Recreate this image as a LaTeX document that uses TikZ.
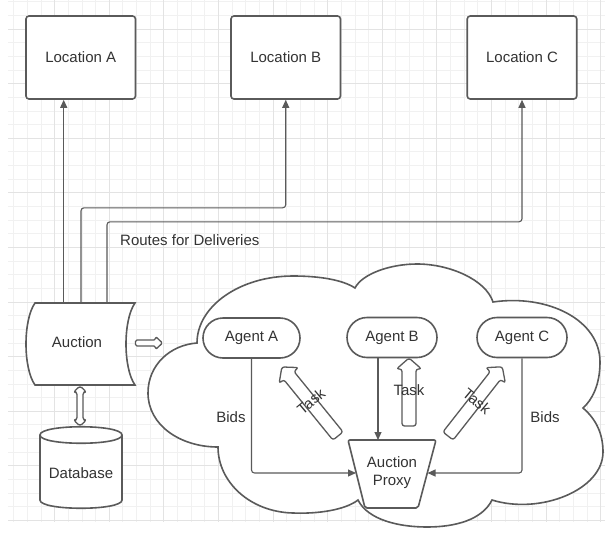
\documentclass[tikz,border=0pt]{standalone}
\usepackage{fontspec}
\setmainfont{Liberation Sans}
\usetikzlibrary{arrows.meta,calc}
\definecolor{linec}{HTML}{5A5A5A}
\definecolor{txt}{HTML}{333333}
\definecolor{gminor}{HTML}{F1F1F1}
\definecolor{gmajor}{HTML}{E3E3E3}
\newcommand{\lbfont}{\fontsize{15}{18}\selectfont}
% hollow block arrow: length, half shaft width, half head width, head length
\newcommand{\blockarr}[4]{\draw[barrow] (0,-#2) -- ({#1-#4},-#2) -- ({#1-#4},-#3) -- (#1,0) -- ({#1-#4},#3) -- ({#1-#4},#2) -- (0,#2) -- cycle;}
\newcommand{\dblarr}[4]{\draw[barrow] (0,0) -- (#4,-#3) -- (#4,-#2) -- ({#1-#4},-#2) -- ({#1-#4},-#3) -- (#1,0) -- ({#1-#4},#3) -- ({#1-#4},#2) -- (#4,#2) -- (#4,#3) -- cycle;}
\begin{document}
\begin{tikzpicture}[x=1pt,y=-1pt,
  ln/.style={draw=linec, line width=1.1pt},
  shp/.style={draw=linec, line width=1.6pt, fill=white},
  arr/.style={ln, -{Triangle[length=8pt,width=7pt]}},
  lbl/.style={text=txt, font=\lbfont, inner sep=0pt},
  locbox/.style={shp, rounded corners=3pt, minimum width=109.5pt, minimum height=83pt, text=txt, font=\lbfont},
  agent/.style={shp, rounded corners=20pt, minimum height=40pt, text=txt, font=\lbfont},
  grminor/.style={draw=gminor, line width=0.8pt},
  grmajor/.style={draw=gmajor, line width=1pt},
  barrow/.style={draw=linec, line width=1.3pt, fill=white, rounded corners=2.5pt, line join=round},
  sbarrow/.style={barrow, rounded corners=1.5pt}]
\useasboundingbox (0,0) rectangle (605,533);
\fill[white] (0,0) rectangle (605,533);
% grid
\foreach \k in {1,...,44} \draw[grminor] ({13.65*\k},0) -- ({13.65*\k},522);
\foreach \k in {0,...,38} \draw[grminor] (8,{1.7+13.65*\k}) -- (605,{1.7+13.65*\k});
\foreach \k in {1,...,11} \draw[grmajor] ({54.6*\k},0) -- ({54.6*\k},522);
\foreach \k in {0,...,9} \draw[grmajor] (8,{29+54.6*\k}) -- (605,{29+54.6*\k});

% cloud
\draw[shp] (197,343)
 .. controls (197,306) and (240,276) .. (293,276)
 .. controls (320,276) and (343,280) .. (355,288)
 .. controls (362,274) and (390,264) .. (417,264)
 .. controls (450,264) and (486,280) .. (493,302)
 .. controls (548,294) and (600,320) .. (600,362)
 .. controls (600,385) and (592,400) .. (583,408)
 .. controls (597,420) and (603,435) .. (603,452)
 .. controls (603,490) and (540,515) .. (492,500)
 .. controls (482,520) and (455,527) .. (427,527)
 .. controls (399,527) and (368,520) .. (358,500)
 .. controls (345,510) and (318,514) .. (293,513)
 .. controls (250,512) and (218,482) .. (218,447)
 .. controls (180,447) and (148,425) .. (148,393)
 .. controls (148,365) and (170,345) .. (197,343) -- cycle;

% locations
\node[locbox] (locA) at (80.75,57.5) {Location A};
\node[locbox] (locB) at (285.75,57.5) {Location B};
\node[locbox] (locC) at (522,57.5) {Location C};

% auction (stored data shape)
\draw[shp] (35,303) -- (135,303) .. controls (123,320) and (123,368) .. (135,385)
  -- (35,385) .. controls (23,368) and (23,320) .. (35,303) -- cycle;
\node[lbl] (auction) at (77,342) {Auction};
\coordinate (aA) at (63.7,303);
\coordinate (aB) at (81,303);
\coordinate (aC) at (107,303);

% routes
\draw[arr] (aA) -- (aA |- locA.south);
\draw[arr, rounded corners=3pt] (aB) |- ($(locB.south)+(0,108)$) -- (locB.south);
\draw[arr, rounded corners=3pt] (aC) |- ($(locC.south)+(0,122)$) -- (locC.south);
\node[lbl, anchor=west] (routes) at (120,240) {Routes for Deliveries};

% database
\draw[shp] (40,435) -- (40,500) .. controls (40,511) and (122,511) .. (122,500) -- (122,435)
  .. controls (122,424) and (40,424) .. (40,435) -- cycle;
\draw[ln, line width=1.6pt] (40,435) .. controls (40,446) and (122,446) .. (122,435);
\node[lbl] (db) at (81,473) {Database};

% auction <-> database, auction -> cloud
\coordinate (dbtop) at (80,386);
\coordinate (auR) at (135.5,343);
\begin{scope}[shift={(dbtop)}, rotate=-90]
  \dblarr{40}{3}{6.5}{6}
\end{scope}
\begin{scope}[shift={(auR)}]
  \draw[sbarrow] (0,-3) -- (20,-3) -- (20,-6.5) -- (27,0) -- (20,6.5) -- (20,3) -- (0,3) -- cycle;
\end{scope}

% agents
\node[agent, minimum width=97pt] (agentA) at (251.5,338) {Agent A};
\node[agent, minimum width=90pt] (agentB) at (392,337.5) {Agent B};
\node[agent, minimum width=90pt] (agentC) at (522,337.5) {Agent C};

% auction proxy
\coordinate (ptl) at (348,440);
\coordinate (ptr) at (436,440);
\coordinate (pbr) at (418,508);
\coordinate (pbl) at (365,508);
\draw[shp, rounded corners=2pt] (ptl) -- (ptr) -- (pbr) -- (pbl) -- cycle;
\node[lbl, align=center] (proxy) at (392,473) {Auction\\Proxy};
\coordinate (pl) at (356,473);
\coordinate (pr) at (427.5,473);

% bids
\draw[arr, rounded corners=3pt] (agentA.south) |- (pl);
\draw[arr, rounded corners=3pt] (agentC.south) |- (pr);
\node[lbl] (bidsA) at (231,417) {Bids};
\node[lbl] (bidsC) at (545,417) {Bids};
\coordinate (bB) at ($(agentB.south)+(-14,0)$);
\draw[arr] (bB) -- (bB |- ptl);

% task arrows
\coordinate (tL) at (338,436);
\coordinate (tM) at (409,426);
\coordinate (tR) at (448,436);
\begin{scope}[shift={(tL)}, rotate=129.1]
  \blockarr{89}{6.5}{12.5}{11}
\end{scope}
\begin{scope}[shift={(tM)}, rotate=90]
  \blockarr{68}{7}{12.5}{11}
\end{scope}
\begin{scope}[shift={(tR)}, rotate=51.9]
  \blockarr{88}{6.5}{12.5}{11}
\end{scope}
\node[lbl, rotate=40] (taskL) at (311,401) {Task};
\node[lbl] (taskM) at (409,390) {Task};
\node[lbl, rotate=-40] (taskR) at (477,401) {Task};
\end{tikzpicture}
\end{document}
